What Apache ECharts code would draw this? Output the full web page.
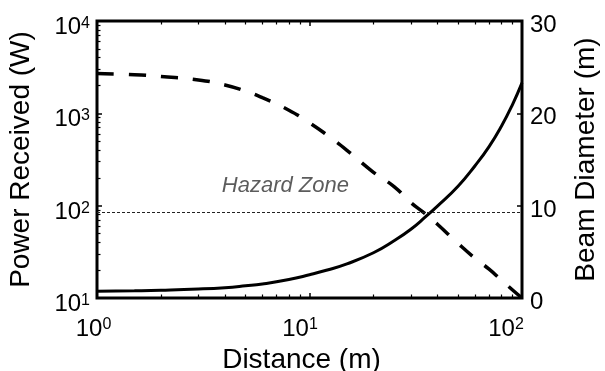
<!DOCTYPE html>
<html>
<head>
<meta charset="utf-8">
<script src="https://cdn.jsdelivr.net/npm/echarts@6/dist/echarts.min.js"></script>
<style>
  html, body { margin: 0; padding: 0; background: #fff; }
  #chart { width: 605px; height: 371px; }
</style>
</head>
<body>
<div id="chart"></div>
<script>
// Distance from the source (m)
const distance = [1, 1.5, 2, 3, 4, 5, 6, 8, 10, 12, 15, 20, 25, 30, 35, 40, 50, 60, 70, 80, 90, 100];
// Power received (W), left log axis
const powerReceived = [2700, 2620, 2500, 2300, 2030, 1740, 1480, 1080, 790, 590, 398, 230, 161, 108, 82, 63, 39, 27, 20.5, 15.6, 12.3, 10];
// Beam diameter (m), right linear axis
const beamDiameter = [0.72, 0.78, 0.84, 0.97, 1.12, 1.32, 1.52, 2.0, 2.52, 3.0, 3.7, 4.9, 6.2, 7.45, 8.75, 9.95, 12.1, 14.3, 16.4, 18.6, 20.9, 23.3];
// Hazard threshold (W) and its caption
const hazardPower = 84;
const hazardLabel = 'Hazard Zone';
const hazardLabelAt = [7.7, 165];
// Axis ranges
const xRange = [1, 100];
const powerRange = [10, 10000];
const diameterRange = [0, 30];
const diameterStep = 10;

const FONT = '"Liberation Sans", Arial, Helvetica, sans-serif';

const toPairs = (xs, ys) => xs.map((x, i) => [x, ys[i]]);
const exponent = v => Math.round(Math.log10(v));

// "10" with a raised exponent; `drop` lowers the base below the exponent
function powerRich(drop) {
  return {
    b: { fontSize: 24, fontFamily: FONT, color: '#000', lineHeight: 24, verticalAlign: 'bottom', padding: [drop, 0, 0, 0] },
    s: { fontSize: 16, fontFamily: FONT, color: '#000', lineHeight: 16, verticalAlign: 'top' },
    g: { fontSize: 1, lineHeight: 13 },
    p0: { width: 7, fontSize: 1 },
    p1: { width: 19, fontSize: 1 },
    p2: { width: 32, fontSize: 1 }
  };
}

const tickCommon = {
  show: true, inside: true, length: 5,
  lineStyle: { color: '#000', width: 1.5 }
};
const minorCommon = {
  show: true, splitNumber: 9, length: 3.5,
  lineStyle: { color: '#000', width: 1.2 }
};

const chart = echarts.init(document.getElementById('chart'), null, { renderer: 'canvas' });

chart.setOption({
  animation: false,
  backgroundColor: '#fff',
  grid: {
    left: 97, right: 83, top: 21, bottom: 73,
    containLabel: false, outerBoundsMode: 'none',
    show: true, borderColor: '#000', borderWidth: 3, backgroundColor: 'transparent'
  },
  xAxis: [
    {
      type: 'log', logBase: 10, min: xRange[0], max: xRange[1], position: 'bottom',
      name: 'Distance (m)', nameLocation: 'middle', nameGap: 48,
      nameTextStyle: { fontSize: 28, fontFamily: FONT, color: '#000', padding: [0, 16, 0, 0] },
      axisLine: { show: false },
      axisTick: tickCommon,
      minorTick: minorCommon,
      splitLine: { show: false },
      axisLabel: {
        margin: 19,
        formatter: v => { const e = exponent(v); return '{b|10}{s|' + e + '}{p' + e + '| }'; },
        rich: powerRich(9)
      }
    },
    {
      type: 'log', logBase: 10, min: xRange[0], max: xRange[1], position: 'top',
      axisLine: { show: false },
      axisTick: tickCommon,
      minorTick: minorCommon,
      splitLine: { show: false },
      axisLabel: { show: false }
    }
  ],
  yAxis: [
    {
      type: 'log', logBase: 10, min: powerRange[0], max: powerRange[1], position: 'left',
      name: 'Power Received (W)', nameLocation: 'middle', nameGap: 62, nameRotate: 90,
      nameTextStyle: { fontSize: 28, fontFamily: FONT, color: '#000' },
      axisLine: { show: false },
      axisTick: tickCommon,
      minorTick: minorCommon,
      splitLine: { show: false },
      axisLabel: {
        margin: 7,
        formatter: v => '{g| }\n{b|10}{s|' + exponent(v) + '}',
        rich: powerRich(4)
      }
    },
    {
      type: 'value', min: diameterRange[0], max: diameterRange[1], interval: diameterStep, position: 'right',
      name: 'Beam Diameter (m)', nameLocation: 'middle', nameGap: 50, nameRotate: 90,
      nameTextStyle: { fontSize: 28, fontFamily: FONT, color: '#000' },
      axisLine: { show: false },
      axisTick: tickCommon,
      splitLine: { show: false },
      axisLabel: {
        margin: 8,
        formatter: v => '{v|' + v + '}',
        rich: { v: { fontSize: 24, fontFamily: FONT, color: '#000', lineHeight: 24, padding: [9, 0, 0, 0] } }
      }
    }
  ],
  series: [
    {
      name: 'Power Received',
      type: 'line',
      xAxisIndex: 0, yAxisIndex: 0,
      data: toPairs(distance, powerReceived),
      smooth: true,
      showSymbol: false, symbol: 'none',
      lineStyle: { color: '#000', width: 3.5, type: [17, 15] },
      markLine: {
        silent: true,
        symbol: 'none',
        label: { show: false },
        lineStyle: { color: '#222', width: 1, type: [3, 2] },
        data: [{ yAxis: hazardPower }]
      },
      z: 3
    },
    {
      name: 'Beam Diameter',
      type: 'line',
      xAxisIndex: 0, yAxisIndex: 1,
      data: toPairs(distance, beamDiameter),
      smooth: true,
      showSymbol: false, symbol: 'none',
      lineStyle: { color: '#000', width: 3 },
      z: 3
    },
    {
      name: hazardLabel,
      type: 'scatter',
      xAxisIndex: 0, yAxisIndex: 0,
      symbolSize: 0,
      data: [hazardLabelAt],
      label: {
        show: true, position: 'inside', formatter: hazardLabel,
        fontSize: 22, fontStyle: 'italic', fontFamily: FONT, color: '#333'
      },
      silent: true
    }
  ]
});
</script>
</body>
</html>
